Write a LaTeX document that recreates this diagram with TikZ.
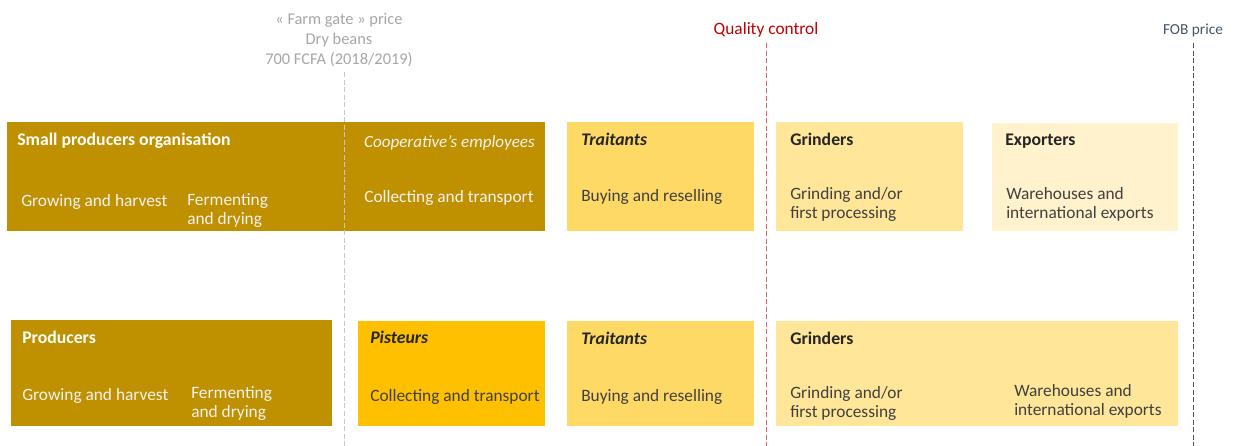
\documentclass[tikz,border=0pt]{standalone}
\usepackage{fontspec}
\setmainfont{Carlito}
\usetikzlibrary{fit}

\definecolor{goldDark}{HTML}{BF9000}
\definecolor{goldMid}{HTML}{FFC000}
\definecolor{goldLight}{HTML}{FFD966}
\definecolor{goldPale}{HTML}{FFE699}
\definecolor{goldFaint}{HTML}{FFF2CC}
\definecolor{textDark}{HTML}{262626}
\definecolor{textGray}{HTML}{404040}
\definecolor{priceGray}{HTML}{A6A6A6}
\definecolor{lineGray}{HTML}{C8C8C8}
\definecolor{qualityRed}{HTML}{C00000}
\definecolor{lineRed}{HTML}{E06070}
\definecolor{fobBlue}{HTML}{44546A}

\tikzset{
  stage/.style={inner sep=0pt, outer sep=0pt, draw=none},
  head/.style={anchor=base west, inner sep=0pt, font=\fontsize{13.3}{14.25}\selectfont\bfseries},
  body/.style={anchor=base west, inner sep=0pt, align=left, font=\fontsize{13}{14.25}\selectfont},
  marker/.style={dash pattern=on 3.75pt off 1.9pt, line width=0.75pt},
}

\begin{document}
\begin{tikzpicture}[x=0.75pt, y=-0.75pt]
 			\useasboundingbox (0,0) rectangle (1233,446);
 			%% Boxes, upper chain
 			\path node(spoBox)     [stage, fill=goldDark,  fit={(7,122) (545,231)}] {};
 			\path node(traitUp)    [stage, fill=goldLight, fit={(567,122) (754,231)}] {};
 			\path node(grindUp)    [stage, fill=goldPale,  fit={(776,122) (963,231)}] {};
 			\path node(exportUp)   [stage, fill=goldFaint, fit={(992,123) (1178,231)}] {};
 			%% Boxes, lower chain
 			\path node(prodLow)    [stage, fill=goldDark,  fit={(11,320) (332,426)}] {};
 			\path node(pistLow)    [stage, fill=goldMid,   fit={(358,321) (545,426)}] {};
 			\path node(traitLow)   [stage, fill=goldLight, fit={(567,321) (754,426)}] {};
 			\path node(grindLow)   [stage, fill=goldPale,  fit={(776,321) (1178,426)}] {};
 			% Price markers
 			\path (339,64) node(farmGate) [anchor=base, inner sep=0pt, align=center, text=priceGray,
 				font=\fontsize{12.3}{15}\selectfont]
 				{« Farm gate » price\\Dry beans\\700 FCFA (2018/2019)};
 			\path (766,34) node(quality) [anchor=base, inner sep=0pt, text=qualityRed,
 				font=\fontsize{13}{14}\selectfont] {Quality control};
 			\path (1193,35) node(fob) [anchor=base, inner sep=0pt, text=fobBlue,
 				font=\fontsize{11.5}{12}\selectfont] {FOB price};
 			\coordinate (farmTop) at (344,72);
 			\coordinate (farmBottom) at (344,446);
 			\coordinate (qualityTop) at (766,43);
 			\coordinate (qualityBottom) at (766,446);
 			\coordinate (fobTop) at (1193,43);
 			\coordinate (fobBottom) at (1193,446);
 			\draw[marker, lineGray] (farmTop) -- (farmBottom);
 			\draw[marker, lineRed] (qualityTop) -- (qualityBottom);
 			\draw[marker, fobBlue] (fobTop) -- (fobBottom);
 			%% Texts, upper chain (two-line texts sit on their last line)
 			\path (17,145) node(spoHead) [head, text=white] {Small producers organisation};
 			\path (535,147) node(coopHead) [body, anchor=base east, text=white!95!black,
 				font=\fontsize{12.8}{14.25}\selectfont\itshape] {Cooperative’s employees};
 			\path (21,206) node(growUp) [body, text=white!95!black] {Growing and harvest};
 			\path (187,224) node(fermUp) [body, text=white!95!black] {Fermenting\\and drying};
 			\path (364,202) node(collUp) [body, text=white!95!black] {Collecting and transport};
 			\path (581,145) node(traitUpHead) [head, text=textDark] {\itshape Traitants};
 			\path (581,201) node(buyUp) [body, text=textGray] {Buying and reselling};
 			\path (790,145) node(grindUpHead) [head, text=textDark] {Grinders};
 			\path (790,218) node(procUp) [body, text=textGray] {Grinding and/or\\first processing};
 			\path (1005,145) node(exportUpHead) [head, text=textDark] {Exporters};
 			\path (1006,218) node(wareUp) [body, text=textGray] {Warehouses and\\international exports};
 			%% Texts, lower chain
 			\path (22,343) node(prodHead) [head, text=white] {Producers};
 			\path (22,400) node(growLow) [body, text=white!95!black] {Growing and harvest};
 			\path (191,417) node(fermLow) [body, text=white!95!black] {Fermenting\\and drying};
 			\path (370,343) node(pistHead) [head, text=textDark] {\itshape Pisteurs};
 			\path (370,401) node(collLow) [body, text=textGray] {Collecting and transport};
 			\path (581,344) node(traitLowHead) [head, text=textDark] {\itshape Traitants};
 			\path (581,401) node(buyLow) [body, text=textGray] {Buying and reselling};
 			\path (790,344) node(grindLowHead) [head, text=textDark] {Grinders};
 			\path (790,417) node(procLow) [body, text=textGray] {Grinding and/or\\first processing};
 			\path (1014,415) node(wareLow) [body, text=textGray] {Warehouses and\\international exports};
\end{tikzpicture}
\end{document}
